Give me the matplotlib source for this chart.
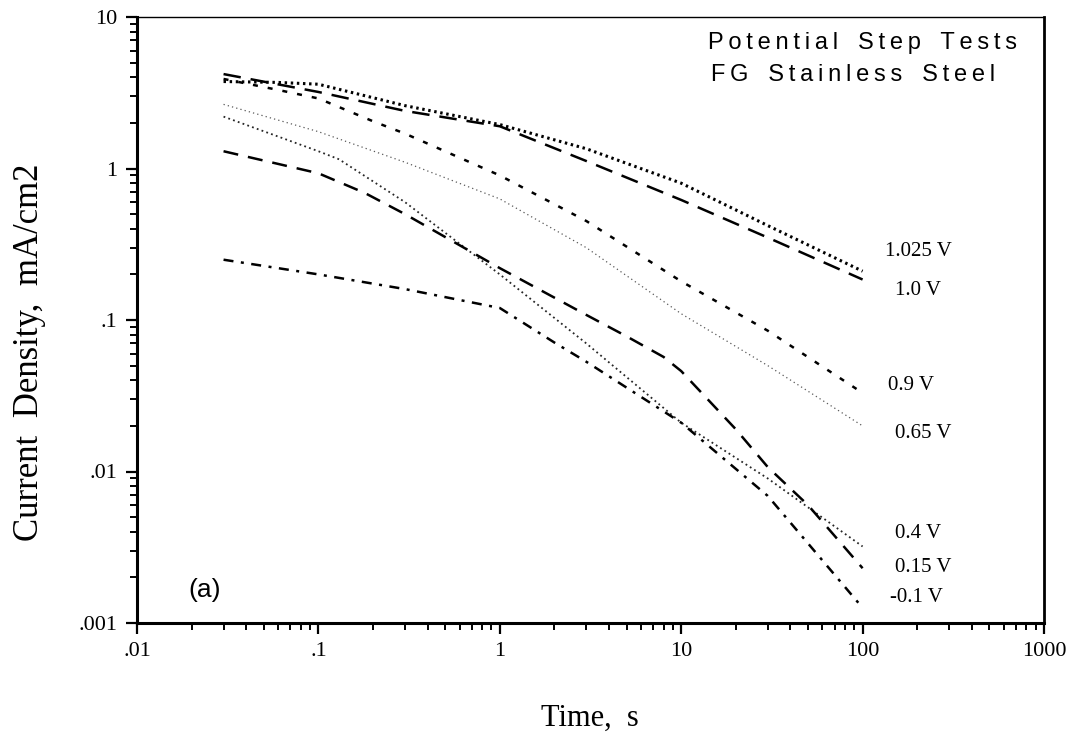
import matplotlib
matplotlib.use("Agg")
import matplotlib.pyplot as plt
from matplotlib.ticker import FixedLocator, LogLocator, NullFormatter

# data (time in s, current density in mA/cm2)
t_1025 = [0.03, 0.06, 0.1, 0.3, 1, 3, 10, 30, 100]
i_1025 = [3.75, 3.7, 3.6, 2.6, 1.95, 1.35, 0.8, 0.42, 0.21]

t_100 = [0.03, 0.1, 0.3, 1, 3, 10, 30, 100]
i_100 = [4.2, 3.2, 2.4, 1.9, 1.12, 0.62, 0.35, 0.185]

t_090 = [0.03, 0.06, 0.1, 0.2, 0.3, 1, 3, 10, 30, 100]
i_090 = [3.9, 3.3, 2.9, 2.05, 1.7, 0.9, 0.45, 0.18, 0.085, 0.033]

t_065 = [0.03, 0.1, 0.3, 1, 3, 10, 30, 100]
i_065 = [2.65, 1.75, 1.1, 0.63, 0.3, 0.11, 0.05, 0.02]

t_040 = [0.03, 0.1, 0.13, 0.3, 1, 3, 10, 30, 100]
i_040 = [2.2, 1.3, 1.15, 0.6, 0.2, 0.07, 0.021, 0.009, 0.0032]

t_015 = [0.03, 0.1, 0.18, 0.3, 1, 3, 5, 8, 10, 20, 30, 50, 100]
i_015 = [1.3, 0.93, 0.69, 0.5, 0.22, 0.108, 0.078, 0.057, 0.046, 0.019, 0.0107, 0.006, 0.0023]

t_m01 = [0.03, 0.1, 0.3, 1, 2, 3, 10, 30, 100]
i_m01 = [0.25, 0.2, 0.16, 0.12, 0.071, 0.053, 0.021, 0.0069, 0.00126]

labels = ["1.025 V", "1.0 V", "0.9 V", "0.65 V", "0.4 V", "0.15 V", "-0.1 V"]
xticks = [0.01, 0.1, 1, 10, 100, 1000]
xticklabels = [".01", ".1", "1", "10", "100", "1000"]
yticks = [0.001, 0.01, 0.1, 1, 10]
yticklabels = [".001", ".01", ".1", "1", "10"]

serif = "Liberation Serif"
sans = ["Liberation Sans", "DejaVu Sans"]


def spaced(s):
    # plotter style title: letters spread apart
    return "   ".join("\u2009".join(w) for w in s.split())


fig = plt.figure(figsize=(10.77, 7.42), dpi=100)
ax = fig.add_axes([137/1077, 1-623/742, (1044-137)/1077, (623-17)/742])

k = "black"
ax.plot(t_1025, i_1025, color=k, lw=2.2, ls=(0, (0.8, 1.2)))
ax.plot(t_100, i_100, color=k, lw=1.8, ls=(0, (7, 4)))
ax.plot(t_090, i_090, color=k, lw=1.8, ls=(0, (2, 4)))
ax.plot(t_065, i_065, color="0.35", lw=0.9, ls=(0, (1, 2.5)))
ax.plot(t_040, i_040, color="0.15", lw=1.3, ls=(0, (1, 1.8)))
ax.plot(t_015, i_015, color=k, lw=1.8, ls=(0, (6, 4)))
ax.plot(t_m01, i_m01, color=k, lw=1.8, ls=(0, (4, 3, 1.2, 3)))

ax.set_xscale("log")
ax.set_yscale("log")
ax.set_xlim(0.01, 1000)
ax.set_ylim(0.001, 10)

ax.xaxis.set_major_locator(FixedLocator(xticks))
ax.set_xticklabels(xticklabels, fontfamily=serif, fontsize=16)
ax.yaxis.set_major_locator(FixedLocator(yticks))
ax.set_yticklabels(yticklabels, fontfamily=serif, fontsize=16)
ax.xaxis.set_minor_locator(LogLocator(base=10, subs=range(2, 10)))
ax.yaxis.set_minor_locator(LogLocator(base=10, subs=range(2, 10)))
ax.xaxis.set_minor_formatter(NullFormatter())
ax.yaxis.set_minor_formatter(NullFormatter())
ax.tick_params(which="major", direction="out", length=8, width=1.6, pad=6)
ax.tick_params(which="minor", direction="out", length=5, width=1.4)
ax.tick_params(top=False, right=False, which="both")

for side in ["left", "bottom"]:
    ax.spines[side].set_linewidth(2.2)
ax.spines["right"].set_linewidth(2.0)
ax.spines["top"].set_linewidth(1.0)

fig.text(30/1077, 1-352/742, "Current  Density,  mA/cm2", rotation=90,
         ha="center", va="center", fontfamily=serif, fontsize=25)
fig.text(590/1077, 1-718/742, "Time,  s", ha="center", va="center",
         fontfamily=serif, fontsize=22)

fig.text(1017/1077, 1-43/742, spaced("Potential Step Tests"), ha="right", va="center",
         family=sans, fontsize=17)
fig.text(995/1077, 1-75/742, spaced("FG Stainless Steel"), ha="right", va="center",
         family=sans, fontsize=17)
fig.text(205/1077, 1-590/742, "(a)", ha="center", va="center",
         family=sans, fontsize=19)

label_pos = [(885, 252), (895, 290), (888, 385), (895, 433), (895, 533), (895, 568), (890, 597)]
for lab, (px, py) in zip(labels, label_pos):
    fig.text(px/1077, 1-py/742, lab, ha="left", va="center",
             fontfamily=serif, fontsize=15)

fig.savefig("out.png", dpi=100)
